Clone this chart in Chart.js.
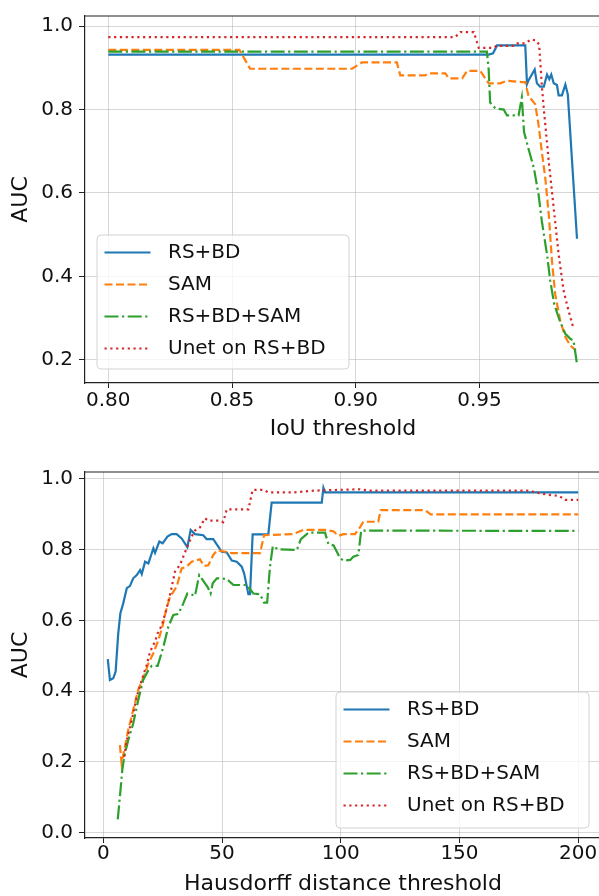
<!DOCTYPE html>
<html>
<head>
<meta charset="utf-8">
<script src="https://cdn.jsdelivr.net/npm/chart.js@4.4.0/dist/chart.umd.min.js"></script>
<style>
  html, body { margin: 0; padding: 0; background: #fff; overflow: hidden; }
  #wrap { position: relative; width: 599px; height: 896px; overflow: hidden; }
  canvas { position: absolute; left: 0; }
</style>
</head>
<body>
<div id="wrap">
  <canvas id="iouChart" width="605" height="445" style="top:0"></canvas>
  <canvas id="hdChart" width="605" height="451" style="top:445px"></canvas>
</div>
<script>
// series names, shared by both panels
const labels = ["RS+BD", "SAM", "RS+BD+SAM", "Unet on RS+BD"];

// top panel: AUC vs IoU threshold
const iouTicks = [0.80, 0.85, 0.90, 0.95];
const aucTicksTop = [0.2, 0.4, 0.6, 0.8, 1.0];

const iouRsbdX = [0.80, 0.9537, 0.9555, 0.9571, 0.9685, 0.9692, 0.9698, 0.9723, 0.9732, 0.9745, 0.9760, 0.9773, 0.9782, 0.9790, 0.9800, 0.9813, 0.9820, 0.9833, 0.9847, 0.9857, 0.9894];
const iouRsbdY = [0.932, 0.932, 0.935, 0.954, 0.954, 0.861, 0.870, 0.896, 0.863, 0.855, 0.855, 0.884, 0.873, 0.884, 0.863, 0.859, 0.834, 0.834, 0.860, 0.836, 0.490];

const iouSamX = [0.80, 0.853, 0.8573, 0.8985, 0.9025, 0.9166, 0.918, 0.928, 0.9295, 0.9362, 0.9376, 0.943, 0.945, 0.9503, 0.9537, 0.9584, 0.9611, 0.9671, 0.9685, 0.9698, 0.9725, 0.9739, 0.9752, 0.9766, 0.978, 0.9793, 0.9806, 0.9826, 0.9847, 0.9867, 0.989];
const iouSamY = [0.943, 0.943, 0.898, 0.898, 0.913, 0.913, 0.882, 0.882, 0.887, 0.887, 0.875, 0.875, 0.893, 0.893, 0.863, 0.863, 0.869, 0.866, 0.866, 0.833, 0.813, 0.762, 0.698, 0.635, 0.548, 0.436, 0.357, 0.294, 0.254, 0.234, 0.222];

const iouCombX = [0.80, 0.953, 0.9537, 0.9543, 0.9564, 0.9598, 0.9611, 0.9658, 0.9671, 0.968, 0.9698, 0.972, 0.9739, 0.9752, 0.9773, 0.9786, 0.9802, 0.9824, 0.9847, 0.9867, 0.988, 0.9894];
const iouCombY = [0.939, 0.939, 0.897, 0.817, 0.803, 0.800, 0.786, 0.786, 0.829, 0.746, 0.706, 0.659, 0.595, 0.532, 0.452, 0.389, 0.333, 0.294, 0.262, 0.250, 0.246, 0.190];

const iouUnetX = [0.80, 0.9402, 0.9423, 0.9477, 0.9497, 0.9555, 0.957, 0.9635, 0.9648, 0.9685, 0.9708, 0.9728, 0.9741, 0.9752, 0.976, 0.978, 0.980, 0.982, 0.984, 0.986, 0.988];
const iouUnetY = [0.974, 0.974, 0.986, 0.986, 0.948, 0.948, 0.953, 0.953, 0.959, 0.959, 0.968, 0.966, 0.956, 0.857, 0.801, 0.675, 0.563, 0.452, 0.365, 0.317, 0.275];

// bottom panel: AUC vs Hausdorff distance threshold
const hdTicks = [0, 50, 100, 150, 200];
const aucTicksBottom = [0.0, 0.2, 0.4, 0.6, 0.8, 1.0];

const hdRsbdX = [1.9, 2.8, 4.2, 5.2, 6.3, 7.2, 8.4, 9.9, 11.2, 12.6, 14.1, 15.5, 16.2, 17.6, 19.0, 21.1, 21.8, 23.6, 25.0, 27.0, 28.8, 30.9, 33.0, 35.4, 36.8, 38.6, 42.1, 43.5, 46.3, 48.0, 49.9, 52.0, 54.1, 56.2, 58.3, 59.3, 61.1, 61.8, 62.9, 69.5, 70.9, 92.0, 92.7, 93.4, 200];
const hdRsbdY = [0.490, 0.431, 0.436, 0.455, 0.563, 0.620, 0.648, 0.691, 0.697, 0.719, 0.728, 0.742, 0.731, 0.766, 0.761, 0.804, 0.791, 0.823, 0.818, 0.837, 0.844, 0.844, 0.832, 0.807, 0.856, 0.844, 0.841, 0.830, 0.830, 0.813, 0.794, 0.792, 0.769, 0.766, 0.752, 0.733, 0.674, 0.674, 0.843, 0.843, 0.933, 0.933, 0.975, 0.962, 0.962];

const hdSamX = [7.0, 7.7, 9.1, 10.5, 12.6, 14.7, 16.8, 19.0, 21.1, 23.2, 24.9, 26.4, 28.1, 30.9, 33.0, 35.1, 37.2, 40.7, 42.4, 44.2, 46.3, 48.0, 54.1, 66.0, 67.7, 80.0, 84.3, 93.4, 96.9, 99.0, 101.1, 106.0, 108.1, 109.5, 115.8, 116.8, 135.5, 137.9, 200];
const hdSamY = [0.247, 0.195, 0.242, 0.290, 0.346, 0.403, 0.436, 0.478, 0.507, 0.544, 0.582, 0.627, 0.667, 0.695, 0.747, 0.752, 0.766, 0.773, 0.754, 0.756, 0.785, 0.799, 0.790, 0.790, 0.841, 0.844, 0.856, 0.856, 0.852, 0.839, 0.844, 0.844, 0.863, 0.879, 0.879, 0.912, 0.912, 0.900, 0.900];

const hdCombX = [6.1, 7.0, 8.0, 8.8, 10.5, 12.6, 14.7, 16.8, 19.0, 20.4, 22.9, 25.3, 27.4, 29.5, 31.6, 33.7, 35.4, 36.9, 38.6, 40.4, 42.4, 43.9, 45.2, 46.1, 47.8, 52.0, 54.8, 60.4, 63.2, 66.0, 67.7, 69.0, 70.2, 71.4, 73.7, 81.5, 83.2, 86.4, 93.4, 94.8, 97.0, 99.7, 101.2, 104.0, 105.3, 107.4, 108.6, 200];
const hdCombY = [0.037, 0.101, 0.176, 0.214, 0.261, 0.308, 0.374, 0.431, 0.459, 0.471, 0.471, 0.525, 0.582, 0.615, 0.618, 0.648, 0.676, 0.674, 0.669, 0.728, 0.709, 0.695, 0.676, 0.705, 0.719, 0.717, 0.700, 0.700, 0.676, 0.674, 0.650, 0.650, 0.752, 0.810, 0.801, 0.799, 0.830, 0.848, 0.848, 0.816, 0.812, 0.776, 0.769, 0.771, 0.780, 0.785, 0.854, 0.853];

const hdUnetX = [8.8, 9.9, 12.0, 14.1, 16.2, 18.3, 19.7, 21.8, 23.0, 24.6, 26.4, 28.1, 30.2, 32.3, 35.1, 37.2, 38.6, 40.7, 42.8, 44.2, 49.2, 50.5, 52.0, 61.1, 62.9, 67.4, 69.5, 80.0, 88.5, 108.1, 112.0, 179.7, 182.0, 187.5, 192.0, 194.5, 200];
const hdUnetY = [0.214, 0.261, 0.318, 0.384, 0.431, 0.474, 0.511, 0.540, 0.565, 0.585, 0.627, 0.672, 0.738, 0.757, 0.804, 0.837, 0.854, 0.863, 0.889, 0.882, 0.882, 0.878, 0.914, 0.914, 0.969, 0.969, 0.962, 0.962, 0.967, 0.971, 0.967, 0.967, 0.962, 0.955, 0.952, 0.941, 0.941];

// styles (matplotlib tab10 + its default dash patterns)
const colors = ["#1f77b4", "#ff7f0e", "#2ca02c", "#d62728"];
const dashes = [[], [8, 3.5], [14, 3.5, 2.2, 3.5], [2.2, 3.6]];
const ink = "#111";
const gridColor = "rgba(176,176,176,0.5)";
const family = '"DejaVu Sans", sans-serif';

function pts(xs, ys) {
  return xs.map((x, i) => ({ x: x, y: ys[i] }));
}

function makeDatasets(series) {
  return series.map((s, i) => ({
    label: labels[i],
    data: pts(s[0], s[1]),
    borderColor: colors[i],
    borderDash: dashes[i],
    borderWidth: 2.2,
    borderCapStyle: "butt",
    pointRadius: 0,
    tension: 0,
    fill: false,
    order: 3 - i
  }));
}

// top/right spines plus a matplotlib-like legend box
const frameLegend = {
  id: "frameLegend",
  afterDraw(chart, args, opts) {
    const ctx = chart.ctx, a = chart.chartArea;
    ctx.save();
    ctx.strokeStyle = "#222";
    ctx.lineWidth = 1.2;
    ctx.beginPath();
    ctx.moveTo(a.left, a.top);
    ctx.lineTo(a.right, a.top);
    ctx.lineTo(a.right, a.bottom);
    ctx.stroke();

    const L = opts.left, T = opts.top;
    ctx.beginPath();
    if (ctx.roundRect) ctx.roundRect(L, T, opts.width, opts.height, 4);
    else ctx.rect(L, T, opts.width, opts.height);
    ctx.fillStyle = "rgba(255,255,255,0.8)";
    ctx.fill();
    ctx.strokeStyle = "#d3d3d3";
    ctx.lineWidth = 1;
    ctx.stroke();

    ctx.font = "20px " + family;
    ctx.textBaseline = "middle";
    ctx.textAlign = "left";
    chart.data.datasets.forEach((d, i) => {
      const y = T + 17.5 + i * 32;
      ctx.strokeStyle = d.borderColor;
      ctx.lineWidth = d.borderWidth;
      ctx.lineCap = "butt";
      ctx.setLineDash(d.borderDash);
      ctx.beginPath();
      ctx.moveTo(L + 7.5, y);
      ctx.lineTo(L + 53.5, y);
      ctx.stroke();
      ctx.setLineDash([]);
      ctx.fillStyle = ink;
      ctx.fillText(d.label, L + 71, y);
    });
    ctx.restore();
  }
};

function makeScales(p) {
  return {
    x: {
      type: "linear",
      min: p.xMin,
      max: p.xMax,
      afterBuildTicks: s => { s.ticks = p.xTicks.map(v => ({ value: v })); },
      afterFit: s => { s.height = p.xHeight; },
      ticks: {
        callback: p.xFmt,
        font: { family: family, size: 20, lineHeight: 1 },
        color: ink,
        maxRotation: 0,
        autoSkip: false,
        padding: p.xTickPad
      },
      grid: { color: gridColor, tickColor: "#222", tickLength: 5, lineWidth: 1 },
      border: { color: "#222", width: 1.2 },
      title: {
        display: true,
        text: p.xTitle,
        color: ink,
        font: { family: family, size: 22 },
        padding: { top: 0, bottom: p.xTitlePad }
      }
    },
    y: {
      type: "linear",
      min: p.yMin,
      max: p.yMax,
      afterBuildTicks: s => { s.ticks = p.yTicks.map(v => ({ value: v })); },
      afterFit: s => { s.width = 85; },
      ticks: {
        callback: v => v.toFixed(1),
        font: { family: family, size: 20, lineHeight: 1 },
        color: ink,
        padding: 6
      },
      grid: { color: gridColor, tickColor: "#222", tickLength: 6, lineWidth: 1 },
      border: { color: "#222", width: 1.2 },
      title: {
        display: true,
        text: "AUC",
        color: ink,
        font: { family: family, size: 22 },
        padding: { top: 8, bottom: 0 }
      }
    }
  };
}

function makeChart(id, series, p, legend, padTop) {
  new Chart(document.getElementById(id), {
    type: "line",
    data: { datasets: makeDatasets(series) },
    options: {
      responsive: false,
      animation: false,
      devicePixelRatio: 1,
      layout: { padding: { top: padTop, right: 4, bottom: 0, left: 0 } },
      plugins: {
        legend: { display: false },
        tooltip: { enabled: false },
        frameLegend: legend
      },
      scales: makeScales(p)
    },
    plugins: [frameLegend]
  });
}

makeChart("iouChart",
  [[iouRsbdX, iouRsbdY], [iouSamX, iouSamY], [iouCombX, iouCombY], [iouUnetX, iouUnetY]],
  {
    xMin: 0.7906, xMax: 0.9991, xTicks: iouTicks, xFmt: v => v.toFixed(2),
    xTitle: "IoU threshold", xHeight: 62, xTickPad: 3, xTitlePad: 3,
    yMin: 0.144, yMax: 1.0245, yTicks: aucTicksTop
  },
  { left: 97, top: 235, width: 252, height: 134 },
  13);

makeChart("hdChart",
  [[hdRsbdX, hdRsbdY], [hdSamX, hdSamY], [hdCombX, hdCombY], [hdUnetX, hdUnetY]],
  {
    xMin: -7.7, xMax: 209.6, xTicks: hdTicks, xFmt: v => String(v),
    xTitle: "Hausdorff distance threshold", xHeight: 58, xTickPad: 1, xTitlePad: -1,
    yMin: -0.016, yMax: 1.0198, yTicks: aucTicksBottom
  },
  { left: 336, top: 247, width: 253, height: 136 },
  27);
</script>
</body>
</html>
